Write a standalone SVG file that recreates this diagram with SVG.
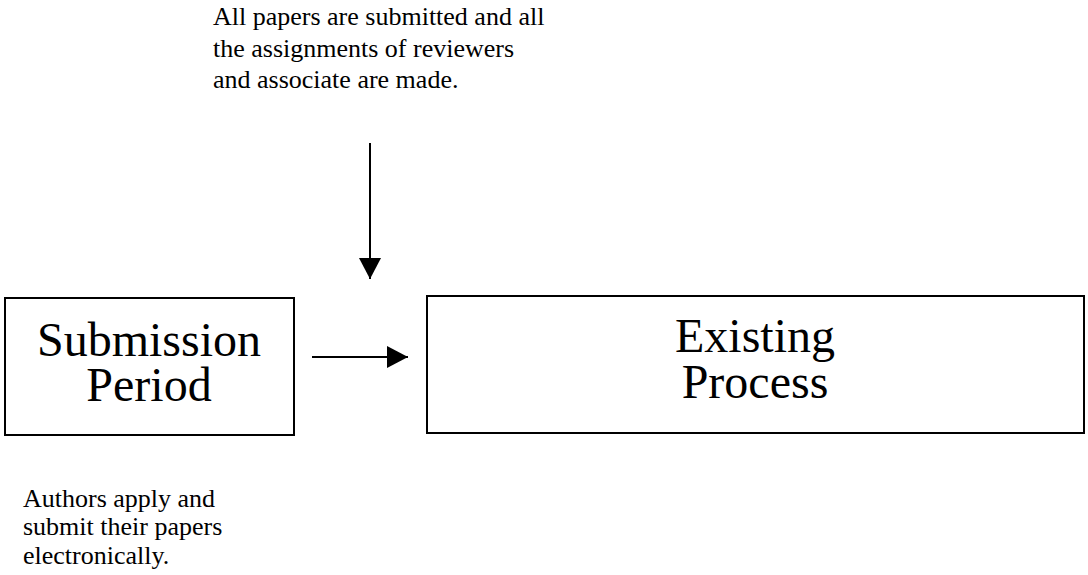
<svg xmlns="http://www.w3.org/2000/svg" width="1088" height="575" viewBox="0 0 1088 575">
  <style>
    .box { fill: #fff; stroke: #000; stroke-width: 2; }
    .big { font-family: "Liberation Serif", "Times New Roman", serif; font-size: 48px; fill: #000; text-anchor: middle; }
    .note { font-family: "Liberation Serif", "Times New Roman", serif; font-size: 26px; fill: #000; }
    .conn { stroke: #000; stroke-width: 2; fill: none; }
  </style>
  <defs>
    <marker id="head" viewBox="0 0 21 22" refX="21" refY="11" markerWidth="21" markerHeight="22" markerUnits="userSpaceOnUse" orient="auto">
      <path d="M0,0 L21,11 L0,22 Z" fill="#000"/>
    </marker>
  </defs>
  <rect width="1088" height="575" fill="#fff"/>

  <g id="note-top">
    <text class="note" x="213" y="25">All papers are submitted and all</text>
    <text class="note" x="213" y="57">the assignments of reviewers</text>
    <text class="note" x="213" y="88">and associate are made.</text>
  </g>

  <g id="submission-period">
    <rect class="box" x="5" y="298" width="289" height="137"/>
    <text class="big" x="149" y="356">Submission</text>
    <text class="big" x="149" y="401">Period</text>
  </g>

  <g id="existing-process">
    <rect class="box" x="427" y="296" width="657" height="137"/>
    <text class="big" x="755" y="352">Existing</text>
    <text class="big" x="755" y="398">Process</text>
  </g>

  <g id="note-bottom">
    <text class="note" x="23" y="507">Authors apply and</text>
    <text class="note" x="23" y="535">submit their papers</text>
    <text class="note" x="23" y="564">electronically.</text>
  </g>

  <g id="connectors">
    <line class="conn" x1="370" y1="143" x2="370" y2="279" marker-end="url(#head)"/>
    <line class="conn" x1="312" y1="357" x2="408" y2="357" marker-end="url(#head)"/>
  </g>
</svg>
